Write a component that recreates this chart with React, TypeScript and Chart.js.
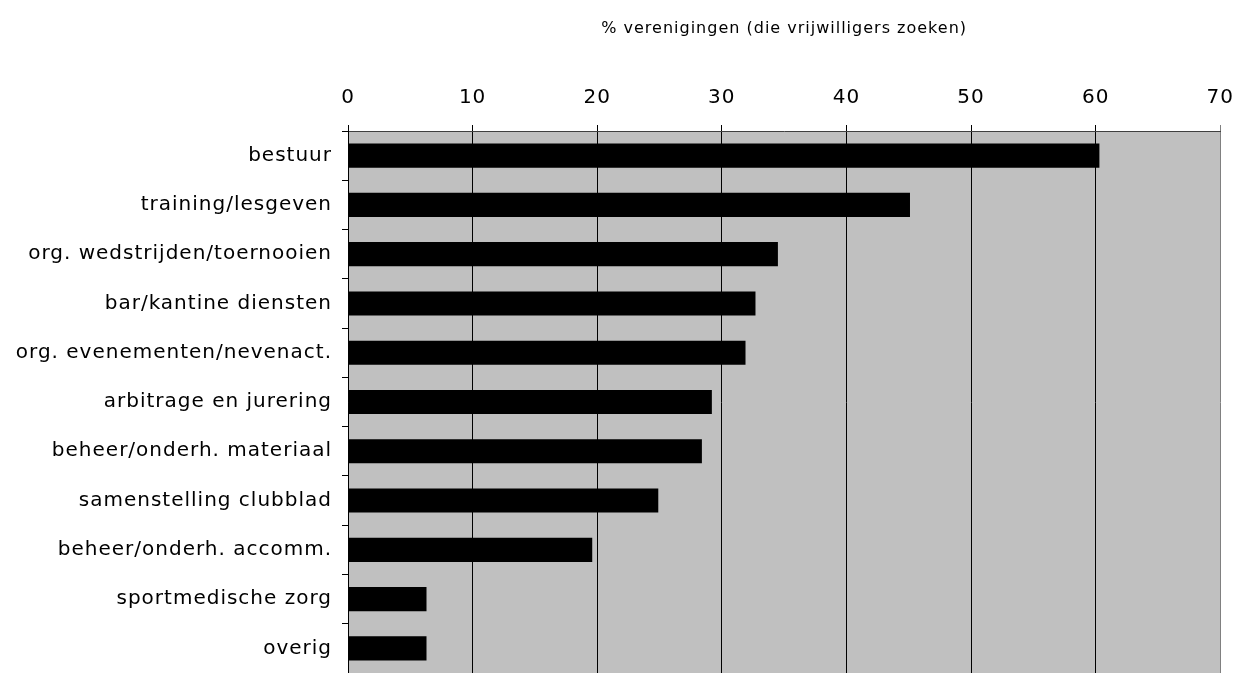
import React, { useEffect, useRef } from "react";
import { Chart, registerables } from "chart.js";

Chart.register(...registerables);

const categories = [
  "bestuur",
  "training/lesgeven",
  "org. wedstrijden/toernooien",
  "bar/kantine diensten",
  "org. evenementen/nevenact.",
  "arbitrage en jurering",
  "beheer/onderh. materiaal",
  "samenstelling clubblad",
  "beheer/onderh. accomm.",
  "sportmedische zorg",
  "overig",
];
const values = [60.3, 45.1, 34.5, 32.7, 31.9, 29.2, 28.4, 24.9, 19.6, 6.3, 6.3];
const axisTitle = "% verenigingen (die vrijwilligers zoeken)";
const xMin = 0;
const xMax = 70;
const xStep = 10;

const plotBg = {
  id: "plotBg",
  beforeDraw(chart: any) {
    const { ctx, chartArea } = chart;
    ctx.letterSpacing = "1px";
    ctx.save();
    ctx.fillStyle = "#c0c0c0";
    ctx.fillRect(chartArea.left, chartArea.top, chartArea.right - chartArea.left, chartArea.bottom - chartArea.top);
    ctx.restore();
  },
};

export default function App() {
  const ref = useRef<HTMLCanvasElement>(null);
  useEffect(() => {
    if (!ref.current) return;
    const chart = new Chart(ref.current, {
      type: "bar",
      data: {
        labels: categories,
        datasets: [
          {
            data: values,
            backgroundColor: "#000000",
            borderWidth: 0,
            barPercentage: 0.49,
            categoryPercentage: 1,
          },
        ],
      },
      plugins: [plotBg],
      options: {
        indexAxis: "y",
        animation: false,
        responsive: false,
        devicePixelRatio: 1,
        layout: { padding: { left: 0, right: 5, top: 0, bottom: 0 } },
        plugins: { legend: { display: false }, tooltip: { enabled: false } },
        scales: {
          x: {
            position: "top",
            min: xMin,
            max: xMax,
            ticks: {
              stepSize: xStep,
              color: "#000",
              padding: 15,
              font: { family: "DejaVu Sans", size: 20 },
            },
            grid: {
              color: (c: any) => (c.tick && c.tick.value === xMax ? "#808080" : "#000000"),
              lineWidth: 1,
              tickLength: 6,
              drawTicks: true,
            },
            border: { display: true, color: "#404040", width: 1 },
            title: {
              display: true,
              text: axisTitle,
              color: "#000",
              font: { family: "DejaVu Sans", size: 16 },
              padding: { top: 19, bottom: 0 },
            },
            afterFit: (scale: any) => {
              scale.height = 131;
            },
          },
          y: {
            ticks: {
              color: "#000",
              padding: 10,
              font: { family: "DejaVu Sans", size: 20 },
            },
            grid: {
              offset: true,
              drawOnChartArea: false,
              drawTicks: true,
              tickLength: 6,
              color: "#000000",
            },
            border: { display: true, color: "#000000", width: 1 },
            afterFit: (scale: any) => {
              scale.width = 348;
            },
          },
        },
      } as any,
    });
    return () => chart.destroy();
  }, []);
  return (
    <div style={{ position: "fixed", left: 0, top: 0, width: 1236, height: 673, background: "#fff", overflow: "hidden" }}>
      <canvas ref={ref} width={1248} height={695} style={{ display: "block" }} />
    </div>
  );
}
